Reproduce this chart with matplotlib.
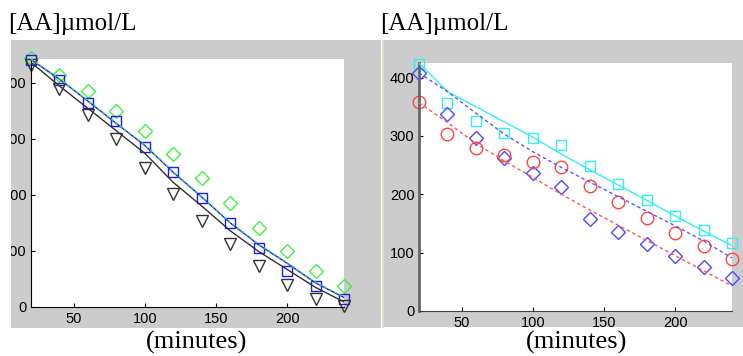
import numpy as np
import matplotlib.pyplot as plt
from matplotlib.patches import Rectangle

# time points (minutes)
t = [20, 40, 60, 80, 100, 120, 140, 160, 180, 200, 220, 240]

# left panel: measured points
left_diamond = [443, 414, 385, 349, 313, 273, 230, 186, 140, 100, 64, 37]
left_square = [441, 405, 363, 332, 286, 241, 195, 149, 106, 65, 37, 15]
left_tri = [431, 389, 343, 300, 248, 202, 154, 112, 73, 40, 15, 2]
# left panel: fitted curves
left_fit_blue = [441, 406, 367, 327, 288, 240, 196, 150, 111, 78, 43, 17]
left_fit_green = [442, 407, 368, 328, 289, 241, 197, 151, 112, 79, 44, 18]
left_fit_black = [436, 394, 354, 314, 274, 222, 180, 136, 99, 67, 35, 9]

# right panel: measured points
right_square = [424, 356, 325, 305, 296, 285, 249, 218, 191, 162, 139, 117]
right_diamond = [408, 337, 297, 262, 236, 213, 157, 135, 114, 94, 75, 57]
right_circle = [358, 304, 280, 267, 256, 247, 215, 187, 159, 134, 111, 89]
# right panel: fitted curves
right_fit_cyan = [425, 376, 350, 324, 298, 269, 242, 216, 190, 163, 137, 112]
right_fit_blue = [408, 376, 339, 303, 273, 246, 221, 196, 171, 146, 120, 91]
right_fit_red = [357, 323, 287, 257, 229, 200, 173, 147, 121, 95, 69, 43]

xticks = [50, 100, 150, 200]
yticks = [0, 100, 200, 300, 400]

W, H = 743, 356
fig = plt.figure(figsize=(W / 100, H / 100), dpi=100)
fig.patch.set_facecolor('white')


def px_rect(x0, y0, x1, y1, color):
    r = Rectangle((x0 / W, 1 - y1 / H), (x1 - x0) / W, (y1 - y0) / H,
                  transform=fig.transFigure, facecolor=color, edgecolor='none', zorder=0)
    fig.add_artist(r)
    return r


left_panel = px_rect(11, 40, 381, 328, '#cccccc')
px_rect(381.5, 40, 383.5, 328, '#deddc8')
right_panel = px_rect(384, 40, 743, 327, '#cccccc')

axL = fig.add_axes([31 / W, 1 - 307 / H, 313 / W, 248 / H])
axR = fig.add_axes([419 / W, 1 - 311 / H, 313 / W, 248 / H])

for ax in (axL, axR):
    ax.set_facecolor('white')
    ax.spines['top'].set_visible(False)
    ax.spines['right'].set_visible(False)
    ax.set_xlim(20, 240)
    ax.set_xticks(xticks)
    ax.set_yticks(yticks)
    ax.tick_params(direction='in', length=3, width=0.8, pad=3.3,
                   labelsize=10.5, labelfontfamily='Liberation Sans')
    ax.set_zorder(2)

axL.set_ylim(0, 442)
axR.set_ylim(0, 425)
axR.spines['left'].set_color('#666666')
axR.spines['left'].set_linewidth(2)
axR.spines['bottom'].set_color('#444444')

mk = dict(linestyle='none', markerfacecolor='none', markeredgewidth=1, clip_on=False)

# left panel
axL.plot(t, left_fit_blue, color='#2020ff', lw=1, zorder=3)
axL.plot(t, left_fit_green, color='#40e040', lw=1, dashes=(2, 2), zorder=3)
axL.plot(t, left_fit_black, color='#303030', lw=1, zorder=3)
axL.plot(t, left_diamond, marker='D', markersize=7.5, markeredgecolor='#44ee44', **mk)
axL.plot(t, left_square, marker='s', markersize=7.5, markeredgecolor='#1a1aff', **mk)
axL.plot(t, left_tri, marker='v', markersize=9, markeredgecolor='#333333', **mk)

# right panel
axR.plot(t, right_fit_cyan, color='#33f0f0', lw=1, zorder=3)
axR.plot(t, right_fit_blue, color='#5555ff', lw=1, dashes=(2.5, 2), zorder=3)
axR.plot(t, right_fit_red, color='#ff5555', lw=1, dashes=(2.5, 2), zorder=3)
axR.plot(t, right_square, marker='s', markersize=7.5, markeredgecolor='#33eeee', **mk)
axR.plot(t, right_diamond, marker='D', markersize=7.5, markeredgecolor='#4a4aff', **mk)
axR.plot(t, right_circle, marker='o', markersize=9, markeredgecolor='#ff4444', **mk)

# left y labels are cut by the panel edge
for tick in axL.yaxis.get_major_ticks():
    tick.label1.set_clip_path(left_panel)

serif = 'Liberation Serif'
fig.text(8 / W, 1 - 30 / H, '[AA]µmol/L', family=serif, size=18, va='baseline')
fig.text(380 / W, 1 - 30 / H, '[AA]µmol/L', family=serif, size=18, va='baseline')
fig.text(197 / W, 1 - 342 / H, '(minutes)', family=serif, size=19, ha='center', va='center')
fig.text(577 / W, 1 - 342 / H, '(minutes)', family=serif, size=19, ha='center', va='center')

fig.savefig('out.png', dpi=100)
